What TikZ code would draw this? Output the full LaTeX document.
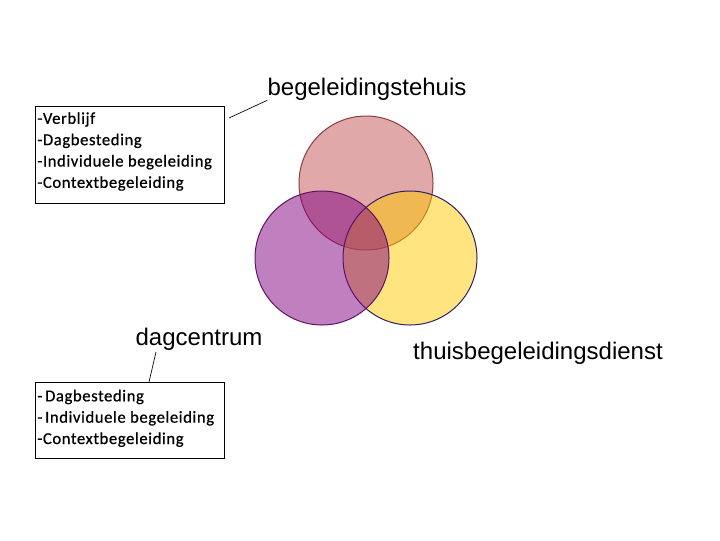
\documentclass[tikz,border=0pt]{standalone}
\usepackage{fontspec}
\usepackage{xcolor}
\usepackage{tikz}
\usetikzlibrary{positioning}
\newfontfamily\arialfont{Liberation Sans}
\newfontfamily\calibrifont[LetterSpace=3.5, FakeBold=0.6]{Carlito}

\definecolor{rosefill}{RGB}{193,81,81}
\definecolor{roseedge}{RGB}{140,60,60}
\definecolor{purplefill}{RGB}{129,1,129}
\definecolor{purpleedge}{RGB}{96,20,96}
\definecolor{yellowfill}{RGB}{255,201,1}
\definecolor{yellowedge}{RGB}{50,30,100}

\begin{document}
\begin{tikzpicture}[
    x=0.75pt, y=-0.75pt,
    every node/.style={inner sep=0pt},
    setname/.style={font=\arialfont\fontsize{18}{20}\selectfont},
    listbox/.style={draw, line width=0.75pt, anchor=north west, minimum width=141.75pt},
    listtext/.style={font=\calibrifont\fontsize{12.5}{16}\selectfont, align=left, anchor=north west},
    venn/.style={circle, minimum size=100.5pt, line width=0.75pt, fill opacity=0.5, draw opacity=1}
]
\useasboundingbox (0,0) rectangle (720,540);

% the three sets
\node[venn, fill=rosefill, draw=roseedge] (stehuis) at (366,183) {};
\node[venn, fill=yellowfill, draw=yellowedge] (thuis) at (410,258) {};
\node[venn, fill=purplefill, draw=purpleedge] (dagc) at (322,258) {};

% names
\node[setname, anchor=base] (stehuisname) at (367,95) {begeleidingstehuis};
\node[setname, anchor=base] (dagcname) at (199,345) {dagcentrum};
\node[setname, anchor=base] (thuisname) at (538,359) {thuisbegeleidingsdienst};

% lists
\node[listbox, minimum height=72.75pt] (stehuisbox) at (35,106) {};
\node[listtext] (stehuislist) at (37,112) {-Verblijf\\-Dagbesteding\\-Individuele begeleiding\\-Contextbegeleiding};
\node[listbox, minimum height=57pt] (dagcbox) at (35,382) {};
\node[listtext] (dagclist) at (37,389.5) {-\,Dagbesteding\\-\,Individuele begeleiding\\-Contextbegeleiding};

% pointers
\coordinate (stehuistip) at (229,118);
\coordinate (dagctip) at (156,352);
\draw[line width=0.5pt] (stehuistip) -- (stehuisname.south west);
\draw[line width=0.5pt] (dagctip) -- (dagcbox.north -| 149,0);
\end{tikzpicture}
\end{document}
